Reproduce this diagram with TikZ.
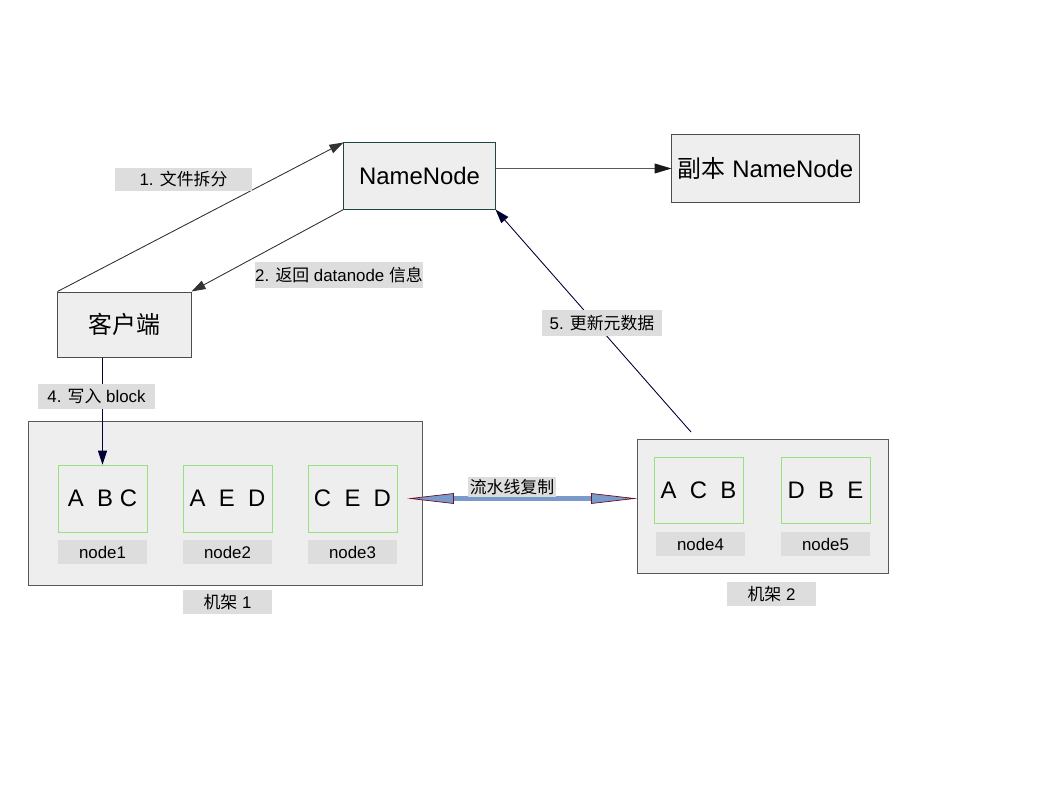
\documentclass[tikz,border=0pt]{standalone}
\usepackage{fontspec}
\setmainfont{Liberation Sans}
\newfontfamily\cjk{Noto Sans CJK SC}
\usetikzlibrary{arrows.meta}
\definecolor{boxgray}{HTML}{EEEEEE}
\definecolor{taggray}{HTML}{DDDDDD}
\definecolor{blkgreen}{HTML}{99E07F}
\definecolor{nnborder}{HTML}{1F4545}
\definecolor{navy}{HTML}{000033}
\definecolor{pipeblue}{HTML}{7A9ACC}
\definecolor{pipered}{HTML}{6A1020}

\begin{document}
\begin{tikzpicture}[x=0.025cm, y=-0.025cm]
				\tikzstyle{every node}=[inner sep=0pt, align=center]
				\tikzstyle{bigbox}=[draw=black!70, fill=boxgray, line width=0.7pt, font=\fontsize{17}{20}\selectfont]
				\tikzstyle{rackbox}=[draw=black!65, fill=boxgray, line width=0.7pt]
				\tikzstyle{blk}=[draw=blkgreen, fill=boxgray, line width=0.5pt, minimum width=2.225cm, minimum height=1.675cm, font=\fontsize{17}{20}\selectfont]
				\tikzstyle{tag}=[fill=taggray, minimum width=2.225cm, minimum height=0.6cm, font=\fontsize{12}{14}\selectfont]
				\tikzstyle{lab}=[fill=taggray, font=\fontsize{12}{14}\selectfont]
				\tikzstyle{arr}=[line width=0.6pt, -{Triangle[length=10pt, width=6.5pt]}]
				\useasboundingbox (0, 0) rectangle (1058, 794);
				% top row
				\node[bigbox, draw=nnborder, minimum width=3.775cm, minimum height=1.65cm] (NN) at (419.5, 176) {NameNode};
				\node[bigbox, minimum width=4.675cm, minimum height=1.675cm] (SNN) at (765.5, 168.5) {{\cjk 副本} NameNode};
				\node[bigbox, minimum width=3.325cm, minimum height=1.625cm] (client) at (124.5, 324.5) {\cjk 客户端};
				% racks
				\node[rackbox, minimum width=9.825cm, minimum height=4.075cm] (rack1) at (225.5, 503.5) {};
				\node[rackbox, minimum width=6.25cm, minimum height=3.325cm] (rack2) at (763, 506.5) {};
				\node[blk] (b1) at (102.5, 498.5) {A\ \ B C};
				\node[blk] (b2) at (227.5, 498.5) {A\ \ E\ \ D};
				\node[blk] (b3) at (352.5, 498.5) {C\ \ E\ \ D};
				\node[blk, minimum height=1.65cm] (b4) at (698.5, 490) {A\ \ C\ \ B};
				\node[blk, minimum height=1.65cm] (b5) at (825.5, 490) {D\ \ B\ \ E};
				\node[tag] (n1) at (102.5, 552) {node1};
				\node[tag] (n2) at (227.5, 552) {node2};
				\node[tag] (n3) at (352.5, 552) {node3};
				\node[tag] (n4) at (700.5, 544) {node4};
				\node[tag] (n5) at (825.5, 544) {node5};
				\node[tag] (r1) at (227.5, 602) {{\cjk 机架} 1};
				\node[tag] (r2) at (771.5, 594) {{\cjk 机架} 2};
				\coordinate (up) at (691, 432);
				% connectors
				\draw [arr, draw=black!80, fill=black!80] (client.north west) -- (NN.north west);
				\draw [arr, draw=black!80, fill=black!80] (NN.south west) -- (client.north east);
				\draw [arr, draw=black!65, -{Triangle[length=12pt, width=7pt, fill=black!90, color=black!90]}] (NN.east |- SNN.west) -- (SNN.west);
				\draw [arr, draw=navy, fill=navy] (up) -- (NN.south east);
				\draw [arr, draw=navy, fill=navy] (client.south -| b1.north) -- (b1.north);
				\draw [line width=3.6pt, draw=pipeblue,
					{Triangle[length=33pt, width=7.5pt, fill=pipeblue, color=pipered, line width=0.5pt]}-{Triangle[length=33pt, width=7.5pt, fill=pipeblue, color=pipered, line width=0.5pt]}]
					([xshift=0.25cm]b3.east) -- (rack2.west |- b3.east);
				% labels
				\node[lab, minimum width=3.425cm, minimum height=0.575cm] (l1) at (183.5, 179.5) {1. {\cjk 文件拆分}};
				\node[lab, minimum width=4.15cm, minimum height=0.65cm] (l2) at (339, 275) {2. {\cjk 返回} datanode {\cjk 信息}};
				\node[lab, minimum width=3cm, minimum height=0.65cm] (l5) at (602, 323) {5. {\cjk 更新元数据}};
				\node[lab, minimum width=2.925cm, minimum height=0.625cm] (l4) at (96.5, 396.5) {4. {\cjk 写入} block};
				\node[lab, minimum width=2.2cm, minimum height=0.5cm] (pl) at (512, 487) {\cjk 流水线复制};
\end{tikzpicture}
\end{document}
